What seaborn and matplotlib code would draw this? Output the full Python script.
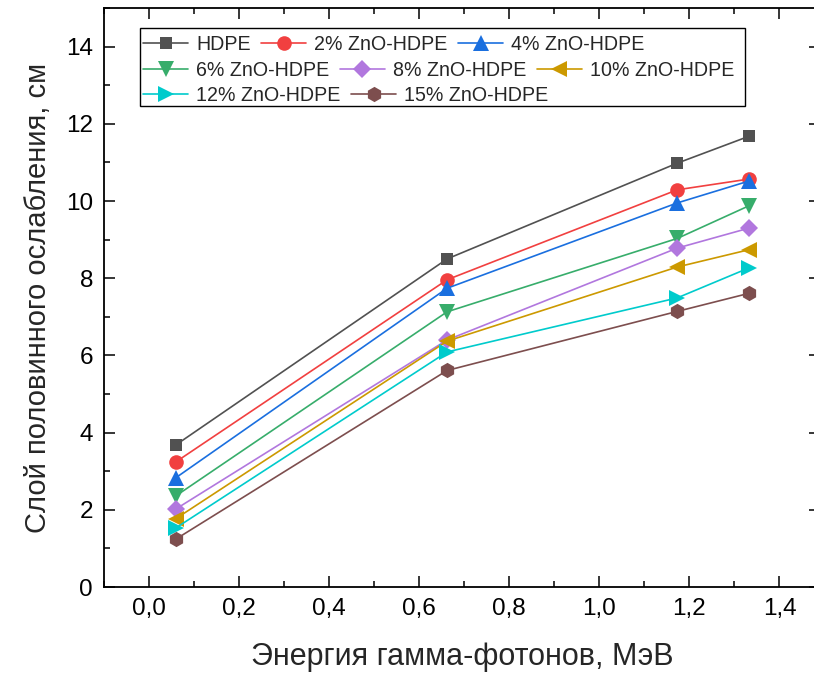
import numpy as np
import pandas as pd
import seaborn as sns
import matplotlib
matplotlib.use("Agg")
import matplotlib.pyplot as plt
from matplotlib.patches import Rectangle
from matplotlib.ticker import MultipleLocator, FuncFormatter

# Photon energies, MeV (Am-241, Cs-137, Co-60 lines)
energy = [0.0595, 0.662, 1.173, 1.333]

series_names = ["HDPE", "2% ZnO-HDPE", "4% ZnO-HDPE", "6% ZnO-HDPE",
                "8% ZnO-HDPE", "10% ZnO-HDPE", "12% ZnO-HDPE", "15% ZnO-HDPE"]

# Half-value layer, cm
hvl_hdpe = [3.68, 8.50, 10.98, 11.68]
hvl_zno2 = [3.24, 7.96, 10.29, 10.57]
hvl_zno4 = [2.83, 7.74, 9.95, 10.52]
hvl_zno6 = [2.36, 7.13, 9.03, 9.88]
hvl_zno8 = [2.02, 6.40, 8.78, 9.30]
hvl_zno10 = [1.77, 6.37, 8.29, 8.74]
hvl_zno12 = [1.53, 6.09, 7.49, 8.27]
hvl_zno15 = [1.24, 5.61, 7.14, 7.61]

all_hvl = [hvl_hdpe, hvl_zno2, hvl_zno4, hvl_zno6,
           hvl_zno8, hvl_zno10, hvl_zno12, hvl_zno15]

colors = ["#515151", "#F14040", "#1A6FDF", "#37AD6B",
          "#B177DE", "#CC9900", "#00CBCC", "#7D4E4E"]
markers = ["s", "o", "^", "v", "D", "<", ">", "h"]
msizes = [9, 10.5, 11, 11, 9.5, 11, 11, 11]

rows = []
for name, vals in zip(series_names, all_hvl):
    for e, v in zip(energy, vals):
        rows.append({"E": e, "HVL": v, "series": name})
df = pd.DataFrame(rows)

sns.set_theme(style="ticks")
plt.rcParams["font.family"] = ["Liberation Sans", "DejaVu Sans"]

fig = plt.figure(figsize=(8.14, 6.73), dpi=100)
ax = fig.add_axes([104 / 814, 86 / 673, 716 / 814, 579 / 673])

for name, col, mk, ms in zip(series_names, colors, markers, msizes):
    sub = df[df["series"] == name]
    sns.lineplot(data=sub, x="E", y="HVL", ax=ax, color=col, marker=mk,
                 markersize=ms, markeredgewidth=0, linewidth=1.2,
                 label=name, legend=False)

ax.set_xlim(-0.1, 1.49)
ax.set_ylim(0, 15)
ax.xaxis.set_major_locator(MultipleLocator(0.2))
ax.xaxis.set_minor_locator(MultipleLocator(0.1))
ax.yaxis.set_major_locator(MultipleLocator(2))
ax.yaxis.set_minor_locator(MultipleLocator(1))
ax.xaxis.set_major_formatter(FuncFormatter(lambda v, p: f"{v:.1f}".replace(".", ",")))
ax.yaxis.set_major_formatter(FuncFormatter(lambda v, p: f"{v:.0f}"))

ax.tick_params(which="both", direction="in", top=True, right=True,
               width=1.1, colors="black", labelsize=17.5)
ax.tick_params(which="major", length=8, pad=8)
ax.tick_params(which="minor", length=4.5)
for sp in ax.spines.values():
    sp.set_linewidth(1.3)
    sp.set_color("black")

ax.set_xlabel("Энергия гамма-фотонов, МэВ", fontsize=22, labelpad=16)
ax.set_ylabel("Слой половинного ослабления, см", fontsize=21, labelpad=10)

# Legend: entries flow left to right in three rows inside one frame
handles, labels = ax.get_legend_handles_labels()
legend_rows = [[0, 1, 2], [3, 4, 5], [6, 7]]
row_y = [0.937, 0.892, 0.849]
for idx, (members, y) in enumerate(zip(legend_rows, row_y)):
    lg = ax.legend([handles[i] for i in members], [labels[i] for i in members],
                   ncol=len(members), loc="center left",
                   bbox_to_anchor=(0.0545, y), fontsize=14.1, frameon=False,
                   handlelength=2.3, handletextpad=0.4, columnspacing=0.55,
                   borderpad=0, borderaxespad=0)
    lg.set_zorder(6)
    if idx < len(legend_rows) - 1:
        ax.add_artist(lg)

frame = Rectangle((0.0503, 0.8307), 0.8447, 0.1348, transform=ax.transAxes,
                  facecolor="white", edgecolor="black", linewidth=1.0, zorder=5)
ax.add_patch(frame)

fig.savefig("out.png", dpi=100)
